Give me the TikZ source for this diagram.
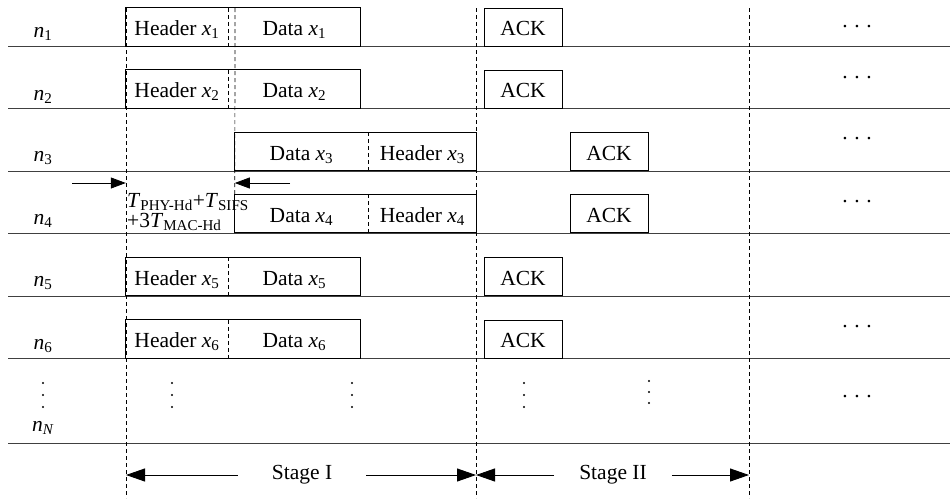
\documentclass[tikz,border=0pt]{standalone}
\usepackage{fontspec}
\setmainfont{Liberation Serif}
\usetikzlibrary{arrows.meta,positioning}
\newcommand{\ix}[2]{\textit{#1}\textsubscript{#2}}
\newcommand{\hdotz}{.\kern6.6pt.\kern6.6pt.}
\tikzset{
	slot/.style={minimum height=38pt,inner sep=0pt,text height=17.5pt,text depth=0pt},
	pktframe/.style={line width=0.9pt},
	cut/.style={line width=0.7pt,dash pattern=on 4pt off 3pt},
	rowline/.style={black!75,line width=0.9pt},
	timearrow/.style={-{Triangle[length=15pt,width=11pt]},line width=0.8pt},
	stagearrow/.style={-{Triangle[length=19pt,width=13pt]},line width=0.9pt}
}

\begin{document}
\begin{tikzpicture}[x=1pt,y=-1pt,font=\fontsize{21.5}{24}\selectfont]
		%%%%% START %%%%%
		\useasboundingbox (0,0) rectangle (950,498);
		
		% row lines
		\draw[rowline] (8,46) -- (950,46);
		\draw[rowline] (8,108) -- (950,108);
		\draw[rowline] (8,171) -- (950,171);
		\draw[rowline] (8,233) -- (950,233);
		\draw[rowline] (8,296) -- (950,296);
		\draw[rowline] (8,358) -- (950,358);
		\draw[rowline] (8,443) -- (950,443);
		
		% stage borders
		\draw[cut] (126,8) -- (126,498);
		\draw[cut] (476,8) -- (476,498);
		\draw[cut] (749,8) -- (749,498);
		
		% node labels
		\node (n1) at (43,34) {\ix{n}{1}};
		\node (n2) at (43,97) {\ix{n}{2}};
		\node (n3) at (43,158) {\ix{n}{3}};
		\node (n4) at (43,221) {\ix{n}{4}};
		\node (n5) at (43,283) {\ix{n}{5}};
		\node (n6) at (43,346) {\ix{n}{6}};
		\node (nN) at (43,428) {\ix{n}{\textit{N}}};
		
		% row 1
		\node[slot,minimum width=102pt] (h1) at (177,27) {Header \ix{x}{1}};
		\node[slot,minimum width=132pt,right=0pt of h1] (d1) {Data \ix{x}{1}};
		\draw[pktframe] (h1.north west) rectangle (d1.south east);
		\draw[cut] (h1.north east) -- (h1.south east);
		\node[slot,draw,pktframe,minimum width=78pt] (a1) at (523,27) {ACK};
		
		% row 2
		\node[slot,minimum width=102pt] (h2) at (177,89) {Header \ix{x}{2}};
		\node[slot,minimum width=132pt,right=0pt of h2] (d2) {Data \ix{x}{2}};
		\draw[pktframe] (h2.north west) rectangle (d2.south east);
		\draw[cut] (h2.north east) -- (h2.south east);
		\node[slot,draw,pktframe,minimum width=78pt] (a2) at (523,89) {ACK};
		
		% row 3
		\node[slot,minimum width=133pt] (d3) at (301.5,151.5) {Data \ix{x}{3}};
		\node[slot,minimum width=108pt,right=0pt of d3] (h3) {Header \ix{x}{3}};
		\draw[pktframe] (d3.north west) rectangle (h3.south east);
		\draw[cut] (d3.north east) -- (d3.south east);
		\node[slot,draw,pktframe,minimum width=78pt] (a3) at (609,151.5) {ACK};
		
		% row 4
		\node[slot,minimum width=133pt] (d4) at (301.5,213.5) {Data \ix{x}{4}};
		\node[slot,minimum width=108pt,right=0pt of d4] (h4) {Header \ix{x}{4}};
		\draw[pktframe] (d4.north west) rectangle (h4.south east);
		\draw[cut] (d4.north east) -- (d4.south east);
		\node[slot,draw,pktframe,minimum width=78pt] (a4) at (609,213.5) {ACK};
		
		% row 5
		\node[slot,minimum width=102pt] (h5) at (177,276.5) {Header \ix{x}{5}};
		\node[slot,minimum width=132pt,right=0pt of h5] (d5) {Data \ix{x}{5}};
		\draw[pktframe] (h5.north west) rectangle (d5.south east);
		\draw[cut] (h5.north east) -- (h5.south east);
		\node[slot,draw,pktframe,minimum width=78pt] (a5) at (523,276.5) {ACK};
		
		% row 6
		\node[slot,minimum width=102pt] (h6) at (177,339) {Header \ix{x}{6}};
		\node[slot,minimum width=132pt,right=0pt of h6] (d6) {Data \ix{x}{6}};
		\draw[pktframe] (h6.north west) rectangle (d6.south east);
		\draw[cut] (h6.north east) -- (h6.south east);
		\node[slot,draw,pktframe,minimum width=78pt] (a6) at (523,339) {ACK};
		
		% offset of the reversed packets
		\coordinate (top) at (235,8);
		\draw[cut] (top) -- (d4.north west);
		\coordinate (gl) at (72,183);
		\coordinate (gr) at (290,183);
		\draw[timearrow] (gl) -- (gl -| h1.west);
		\draw[timearrow] (gr) -- (gr -| d4.west);
		\node[anchor=west,align=left,inner sep=0pt,font=\fontsize{21.5}{20}\selectfont] (gap) at (127,212)
			{\ix{T}{PHY-Hd}+\ix{T}{SIFS}\\+3\ix{T}{MAC-Hd}};
		
		% more rows and slots
		\fill (43,383) circle (1.2) (43,395) circle (1.2) (43,407) circle (1.2);
		\fill (172,383) circle (1.2) (172,395) circle (1.2) (172,407) circle (1.2);
		\fill (352,383) circle (1.2) (352,395) circle (1.2) (352,407) circle (1.2);
		\fill (524,383) circle (1.2) (524,395) circle (1.2) (524,407) circle (1.2);
		\fill (649,381) circle (1.2) (649,392) circle (1.2) (649,403) circle (1.2);
		\node (e1) at (857,27) {\hdotz};
		\node (e2) at (857,78) {\hdotz};
		\node (e3) at (857,139) {\hdotz};
		\node (e4) at (857,202) {\hdotz};
		\node (e6) at (857,327) {\hdotz};
		\node (eN) at (857,397) {\hdotz};
		
		% stages
		\coordinate (s1l) at (126,475);
		\coordinate (s1r) at (476,475);
		\coordinate (s2r) at (749,475);
		\node[inner xsep=34pt] (st1) at (302,475) {Stage I};
		\node[inner xsep=25pt] (st2) at (613,475) {Stage II};
		\draw[stagearrow] (st1.west) -- (s1l);
		\draw[stagearrow] (st1.east) -- (s1r);
		\draw[stagearrow] (st2.west) -- (s1r);
		\draw[stagearrow] (st2.east) -- (s2r);
		%%%%% END %%%%%
\end{tikzpicture}
\end{document}
